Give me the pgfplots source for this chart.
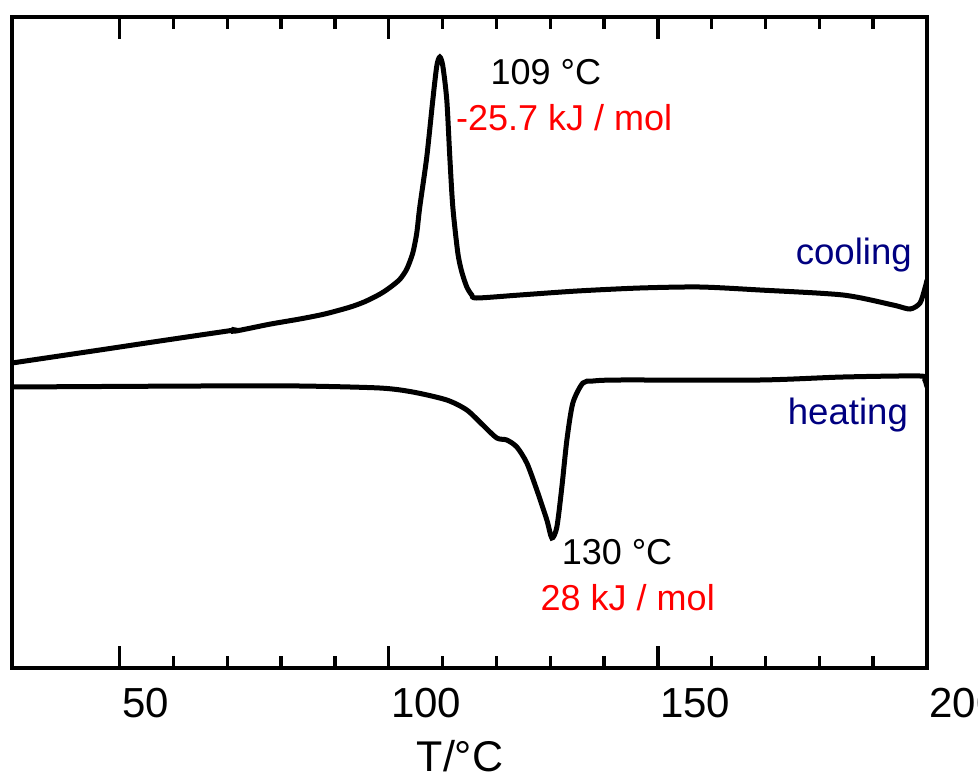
\documentclass[border=0pt]{standalone}
\usepackage{pgfplots}
\pgfplotsset{compat=1.18}
\usepackage{fontspec}
\setmainfont{Liberation Sans}
\definecolor{lblnavy}{RGB}{0,0,128}
\begin{document}
\begin{tikzpicture}
\begin{axis}[
  scale only axis, width=457.5pt, height=325.5pt,
  xmin=30, xmax=200, ymin=0, ymax=651,
  axis line style={line width=2pt},
  xtick={50,100,150,200}, minor x tick num=4,
  ytick=\empty,
  tick align=inside, xtick pos=both,
  major tick length=11pt, minor tick length=6pt,
  every tick/.style={black, line width=1.7pt},
  /pgf/number format/assume math mode=true,
  /pgf/number format/1000 sep={},
  xticklabel style={font=\fontsize{21}{24}\selectfont, anchor=north west, inner sep=0pt, xshift=1pt, yshift=-10pt},
  xlabel={T/°C},
  xlabel style={font=\fontsize{21.5}{24}\selectfont, at={(rel axis cs:0.4896,0)}, anchor=north, inner sep=0pt, yshift=-36pt},
  clip=true,
]
% cooling curve
\addplot[black, line width=2.5pt, smooth, tension=0.45] coordinates {
(30,305) (46.3,318.0) (55.58,325.5) (65,333) (70.8,337.6) (71.1,338.4) (71.4,336.8)
(77.88,343.8) (83.46,349.0) (88.10,354.0) (92.75,360.8) (95.54,366.3) (98.33,373.8)
(100.19,380.4) (102.04,388.6) (103.35,399) (104.46,415) (105.2,435) (105.76,461)
(107.06,511) (108.18,568) (108.92,602) (109.48,611) (110.04,602) (110.78,568)
(111.34,511) (111.9,461) (112.83,415) (113.57,396) (114.5,381) (115.43,373)
(116.36,370) (124.35,373) (135,377)
(146.65,380) (157.8,381) (168.96,378) (184.39,373) (193.68,363) (196.84,359)
(198.7,365) (199.63,380) (200,388)
};
% heating curve
\addplot[black, line width=2.5pt, smooth, tension=0.45] coordinates {
(30,281) (64.87,282) (83.46,282) (98.33,280) (104.46,276) (110.78,268)
(114.5,258) (117.47,243) (120.07,230) (121.93,228) (123.79,221) (125.65,205)
(127.51,178) (129.37,148) (130.3,130) (131.23,141) (132.16,181) (133.09,228)
(134.2,265) (136.06,285) (137.92,287) (142.94,288) (168.96,288) (184.39,291)
(198.7,292) (199.6,288) (200,281)
};
\node[font=\fontsize{18}{21}\selectfont] at (axis cs:129.2,596) {109 °C};
\node[font=\fontsize{18}{21}\selectfont, text=red] at (axis cs:132.6,550) {-25.7 kJ / mol};
\node[font=\fontsize{18}{21}\selectfont] at (axis cs:142.4,116) {130 °C};
\node[font=\fontsize{18}{21}\selectfont, text=red] at (axis cs:144.4,70) {28 kJ / mol};
\node[font=\fontsize{18.3}{21}\selectfont, text=lblnavy] at (axis cs:186.4,413) {cooling};
\node[font=\fontsize{18.3}{21}\selectfont, text=lblnavy] at (axis cs:185.3,253) {heating};
\coordinate (sw) at (rel axis cs:0,0);
\coordinate (ne) at (rel axis cs:1,1);
\end{axis}
\pgfresetboundingbox
\path ([shift={(-6pt,-55pt)}]sw) rectangle ([shift={(25.5pt,8.5pt)}]ne);
\end{tikzpicture}
\end{document}
